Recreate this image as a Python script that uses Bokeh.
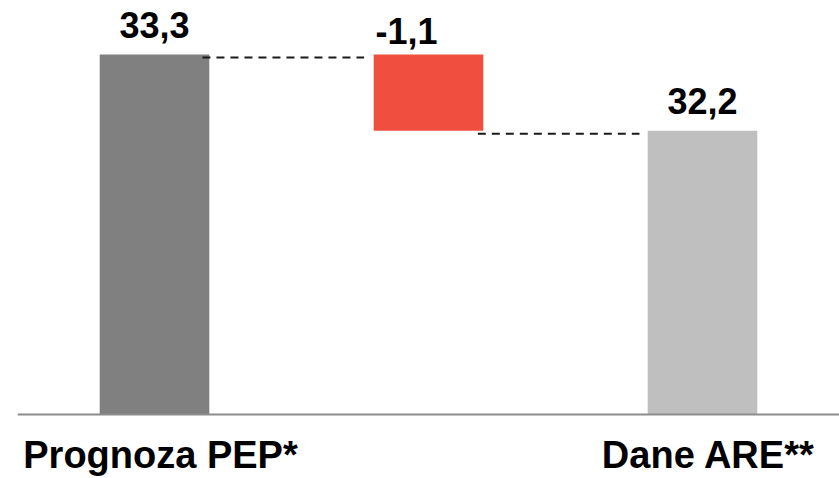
from bokeh.plotting import figure
from bokeh.models import Range1d, ColumnDataSource, Span
from bokeh.embed import file_html
from bokeh.resources import INLINE
from bokeh.core.properties import value

# ---- data ----
categories = ["Prognoza PEP*", "", "Dane ARE**"]
start_value = 33.3
change_value = -1.1
end_value = 32.2
value_labels = ["33,3", "-1,1", "32,2"]
axis_floor = 28.1

# ---- view / styles ----
FIG_W, FIG_H = 839, 478
view_bottom = 27.176
view_top = 34.08
bar_colors = ["#808080", "#F04E3E", "#BFBFBF"]
FONT = "Liberation Sans"
connector_drop_px = 3

xs = list(range(len(categories)))
after_change = start_value + change_value
bottoms = [axis_floor, after_change, axis_floor]
tops = [start_value, start_value, end_value]

src = ColumnDataSource(dict(x=xs, bottom=bottoms, top=tops, color=bar_colors,
                            label=value_labels))

p = figure(width=FIG_W, height=FIG_H, output_backend="svg", toolbar_location=None,
           x_range=Range1d(-0.5, 2.5), y_range=Range1d(view_bottom, view_top),
           x_axis_location=None, y_axis_location=None,
           min_border_left=17, min_border_right=0,
           min_border_top=0, min_border_bottom=0)
p.outline_line_color = None
p.grid.visible = False
p.background_fill_color = "white"
p.border_fill_color = "white"

p.vbar(x="x", bottom="bottom", top="top", width=0.4, fill_color="color",
       line_color=None, source=src)

# baseline
p.add_layout(Span(location=axis_floor, dimension="width",
                  line_color="#8C8C8C", line_width=2))

# connectors (drawn slightly below the bar tops, as in the reference)
drop = connector_drop_px * (view_top - view_bottom) / FIG_H
conn_y = [start_value - drop, after_change - drop]
p.segment(x0=[xs[0] + 0.175, xs[1] + 0.18], x1=[xs[1] - 0.235, xs[2] - 0.23],
          y0=conn_y, y1=conn_y, line_color="#1A1A1A", line_width=2,
          line_dash="8 6")

# value labels
totals = [0, 2]
p.text(x=[xs[i] for i in totals], y=[tops[i] for i in totals],
       text=[value_labels[i] for i in totals], y_offset=-30,
       text_align="center", text_baseline="alphabetic",
       text_font=value(FONT), text_font_style="bold", text_font_size="36px",
       text_color="black")
p.text(x=[xs[1]], y=[tops[1]], text=[value_labels[1]], x_offset=-22, y_offset=-24,
       text_align="center", text_baseline="alphabetic",
       text_font=value(FONT), text_font_style="bold", text_font_size="36px",
       text_color="black")

# category labels
p.text(x=[xs[0], xs[2]], y=[axis_floor, axis_floor],
       text=[categories[0], categories[2]], x_offset=6, y_offset=40,
       text_align="center", text_baseline="alphabetic",
       text_font=value(FONT), text_font_style="bold", text_font_size="38px",
       text_color="black")

open("out.html", "w").write(file_html(p, INLINE))
